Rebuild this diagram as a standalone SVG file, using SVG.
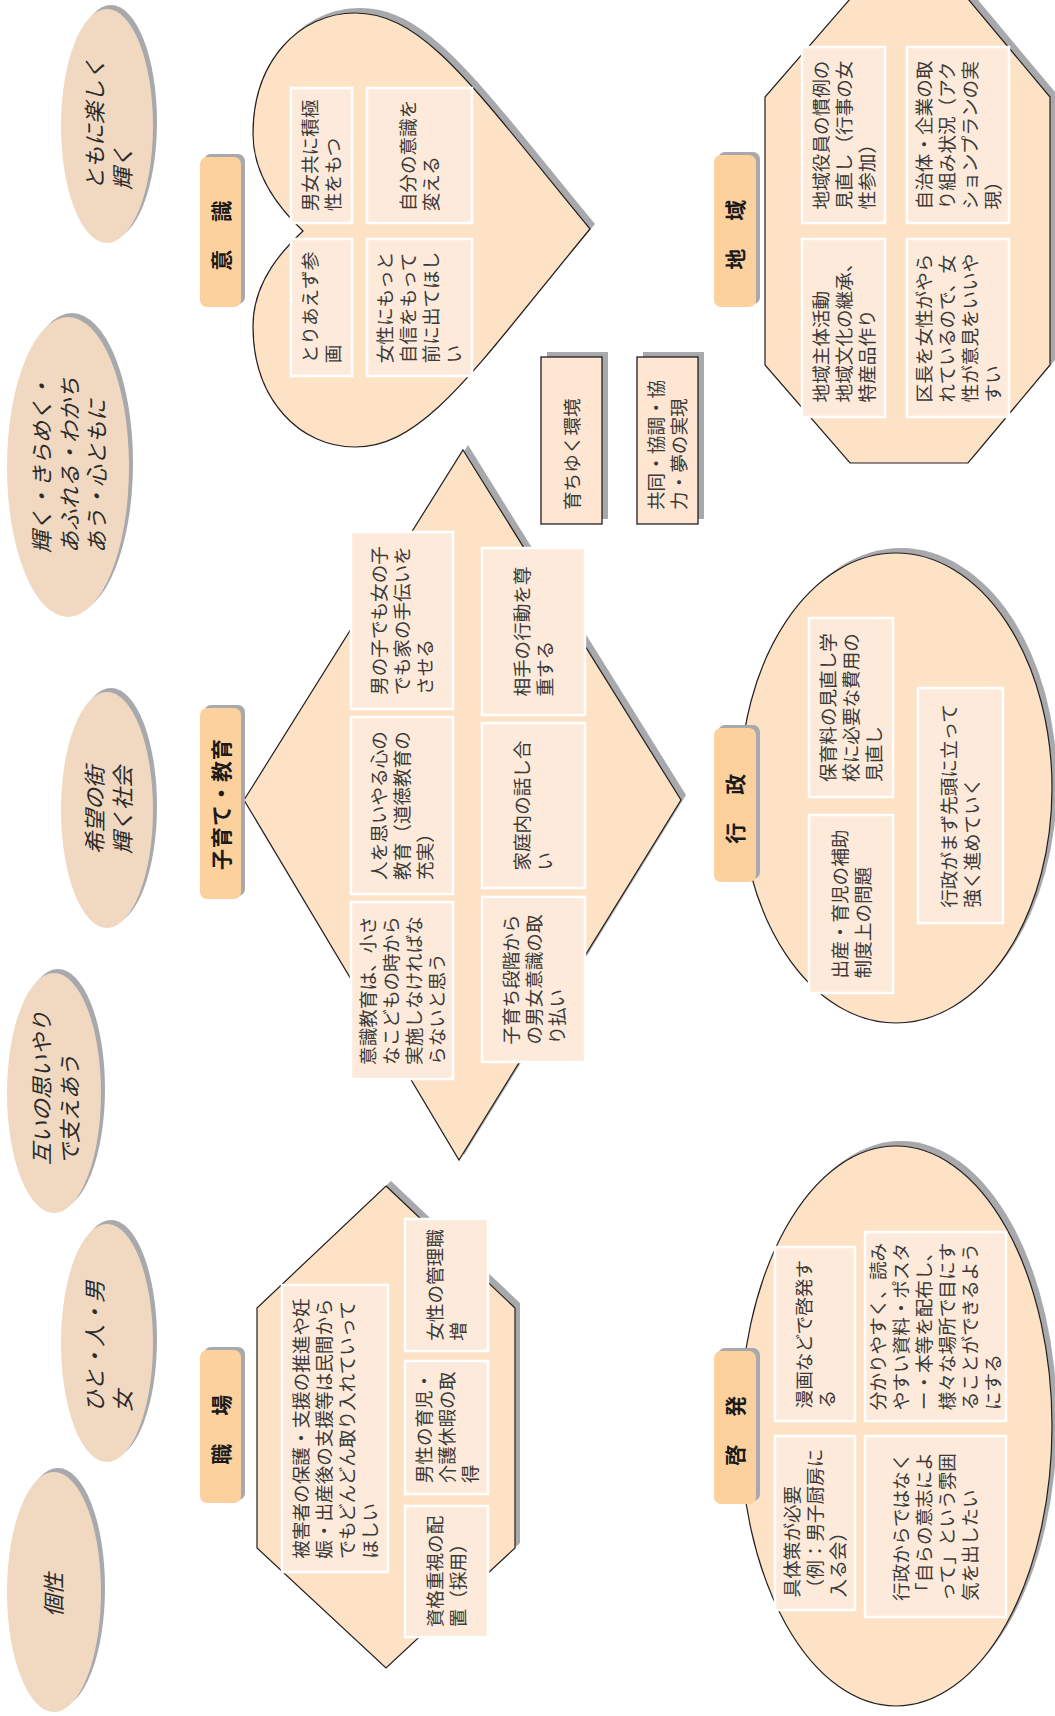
<svg xmlns="http://www.w3.org/2000/svg" width="1055" height="1716" viewBox="0 0 1055 1716">
<style>
.shadow{fill:#A7A9AC}
.shape{fill:#FDE2C6;stroke:#231F20;stroke-width:1.2}
.box{fill:#FEEADA;stroke:#FFFFFF;stroke-width:2.5}
.oval{fill:#F1D9C1}
.label{fill:#FDD19E}
.small{fill:#FEE6D2;stroke:#231F20;stroke-width:1.3}
text{font-family:"Noto Sans CJK JP","Noto Sans",sans-serif}
.t{font-size:18.6px;fill:#3A3A3A}
.te{font-size:22px;font-style:italic;fill:#2B2B2B}
.tl{font-size:21px;font-weight:bold;fill:#1A1A1A;text-anchor:middle;letter-spacing:3.5px}
.tl2{font-size:21px;font-weight:bold;fill:#1A1A1A;text-anchor:middle;letter-spacing:1px}
</style>
<defs>
<path id="heart" d="M303,231 C285,214 253,180 253,134 C253,60 300,13 355,13 C425,13 475,90 590,229 C475,368 425,447 355,447 C300,447 253,400 253,326 C253,280 285,248 303,231 Z"/>
<path id="diamond" d="M463,450 L681,800 L459,1160 L244,800 Z"/>
<path id="hexagon" d="M386,1186 L515,1308 L515,1548 L386,1668 L257,1548 L257,1308 Z"/>
<path id="octagon" d="M850,-1 L968,-1 L1050,97 L1050,365 L968,463 L850,463 L765,365 L765,97 Z"/>
<ellipse id="ov-gyosei" cx="896" cy="788" rx="156" ry="235"/>
<ellipse id="ov-keihatsu" cx="896" cy="1426" rx="156" ry="280"/>
</defs>

<g id="connectors"></g>

<!-- left column themes -->
<g id="theme-tomoni">
<ellipse class="shadow" cx="111" cy="122" rx="46" ry="117"/>
<ellipse class="oval" cx="107" cy="126" rx="46" ry="117"/>
<text class="te" transform="translate(103.4,190) rotate(-90)"><tspan x="0" y="0">ともに楽しく</tspan><tspan x="0" y="27.5">輝く</tspan></text>
</g>
<g id="theme-kagayaku">
<ellipse class="shadow" cx="72" cy="463" rx="61" ry="150"/>
<ellipse class="oval" cx="68" cy="467" rx="61" ry="150"/>
<text class="te" transform="translate(50.4,553) rotate(-90)"><tspan x="0" y="0">輝く・きらめく・</tspan><tspan x="0" y="27.5">あふれる・わかち</tspan><tspan x="0" y="55">あう・心ともに</tspan></text>
</g>
<g id="theme-kibou">
<ellipse class="shadow" cx="111" cy="806" rx="46" ry="118"/>
<ellipse class="oval" cx="107" cy="810" rx="46" ry="118"/>
<text class="te" transform="translate(103.4,854) rotate(-90)"><tspan x="0" y="0">希望の街</tspan><tspan x="0" y="27.5">輝く社会</tspan></text>
</g>
<g id="theme-tagai">
<ellipse class="shadow" cx="58" cy="1089" rx="47" ry="120"/>
<ellipse class="oval" cx="54" cy="1093" rx="47" ry="120"/>
<text class="te" transform="translate(50.4,1165) rotate(-90)"><tspan x="0" y="0">互いの思いやり</tspan><tspan x="0" y="27.5">で支えあう</tspan></text>
</g>
<g id="theme-hito">
<ellipse class="shadow" cx="111" cy="1339" rx="46" ry="119"/>
<ellipse class="oval" cx="107" cy="1343" rx="46" ry="119"/>
<text class="te" transform="translate(103.4,1412) rotate(-90)"><tspan x="0" y="0">ひと・人・男</tspan><tspan x="0" y="27.5">女</tspan></text>
</g>
<g id="theme-kosei">
<ellipse class="shadow" cx="58" cy="1588" rx="47" ry="120"/>
<ellipse class="oval" cx="54" cy="1592" rx="47" ry="120"/>
<text class="te" transform="translate(62.4,1595) rotate(-90)" text-anchor="middle">個性</text>
</g>

<!-- 意識 heart -->
<g id="node-ishiki">
<use href="#heart" class="shadow" transform="translate(5,-5)"/>
<use href="#heart" class="shape"/>
<rect class="box" x="291" y="88" width="61" height="135"/>
<rect class="box" x="367" y="88" width="105" height="135"/>
<rect class="box" x="291" y="239" width="61" height="137"/>
<rect class="box" x="367" y="239" width="105" height="137"/>
<text class="t" transform="translate(317,211.3) rotate(-90)"><tspan x="0" y="0">男女共に積極</tspan><tspan x="0" y="23">性をもつ</tspan></text>
<text class="t" transform="translate(415,211.3) rotate(-90)"><tspan x="0" y="0">自分の意識を</tspan><tspan x="0" y="23">変える</tspan></text>
<text class="t" transform="translate(317,363.3) rotate(-90)"><tspan x="0" y="0">とりあえず参</tspan><tspan x="0" y="23">画</tspan></text>
<text class="t" transform="translate(392,363.3) rotate(-90)"><tspan x="0" y="0">女性にもっと</tspan><tspan x="0" y="23">自信をもって</tspan><tspan x="0" y="46">前に出てほし</tspan><tspan x="0" y="69">い</tspan></text>
<rect class="shadow" x="204" y="154" width="41" height="150" rx="7"/>
<rect class="label" x="200" y="157" width="41" height="150" rx="7"/>
<text class="tl" transform="translate(228.5,234) rotate(-90)">意　識</text>
</g>

<!-- 子育て・教育 diamond -->
<g id="node-kosodate">
<use href="#diamond" class="shadow" transform="translate(5,-5)"/>
<use href="#diamond" class="shape"/>
<rect class="box" x="351" y="532" width="102" height="177"/>
<rect class="box" x="351" y="717" width="102" height="177"/>
<rect class="box" x="351" y="902" width="102" height="177"/>
<rect class="box" x="482" y="548" width="103" height="167"/>
<rect class="box" x="482" y="723" width="103" height="165"/>
<rect class="box" x="482" y="897" width="103" height="165"/>
<text class="t" transform="translate(386,694.9) rotate(-90)"><tspan x="0" y="0">男の子でも女の子</tspan><tspan x="0" y="23">でも家の手伝いを</tspan><tspan x="0" y="46">させる</tspan></text>
<text class="t" transform="translate(386,879.9) rotate(-90)"><tspan x="0" y="0">人を思いやる心の</tspan><tspan x="0" y="23">教育（道徳教育の</tspan><tspan x="0" y="46">充実）</tspan></text>
<text class="t" transform="translate(374.5,1064.9) rotate(-90)"><tspan x="0" y="0">意識教育は、小さ</tspan><tspan x="0" y="23">なこどもの時から</tspan><tspan x="0" y="46">実施しなければな</tspan><tspan x="0" y="69">らないと思う</tspan></text>
<text class="t" transform="translate(529,696.6) rotate(-90)"><tspan x="0" y="0">相手の行動を尊</tspan><tspan x="0" y="23">重する</tspan></text>
<text class="t" transform="translate(529,870.6) rotate(-90)"><tspan x="0" y="0">家庭内の話し合</tspan><tspan x="0" y="23">い</tspan></text>
<text class="t" transform="translate(517.5,1044.6) rotate(-90)"><tspan x="0" y="0">子育ち段階から</tspan><tspan x="0" y="23">の男女意識の取</tspan><tspan x="0" y="46">り払い</tspan></text>
<rect class="shadow" x="204" y="705" width="41" height="191" rx="7"/>
<rect class="label" x="200" y="708" width="41" height="191" rx="7"/>
<text class="tl2" transform="translate(228.5,804) rotate(-90)">子育て・教育</text>
</g>

<!-- 職場 hexagon -->
<g id="node-shokuba">
<use href="#hexagon" class="shadow" transform="translate(5,-5)"/>
<use href="#hexagon" class="shape"/>
<rect class="box" x="282" y="1285" width="106" height="287"/>
<rect class="box" x="405" y="1219" width="83" height="132"/>
<rect class="box" x="405" y="1361" width="83" height="133"/>
<rect class="box" x="405" y="1506" width="83" height="131"/>
<text class="t" transform="translate(307.5,1558.7) rotate(-90)"><tspan x="0" y="0">被害者の保護・支援の推進や妊</tspan><tspan x="0" y="23">娠・出産後の支援等は民間から</tspan><tspan x="0" y="46">でもどんどん取り入れていって</tspan><tspan x="0" y="69">ほしい</tspan></text>
<text class="t" transform="translate(442,1340.8) rotate(-90)"><tspan x="0" y="0">女性の管理職</tspan><tspan x="0" y="23">増</tspan></text>
<text class="t" transform="translate(430.5,1483.3) rotate(-90)"><tspan x="0" y="0">男性の育児・</tspan><tspan x="0" y="23">介護休暇の取</tspan><tspan x="0" y="46">得</tspan></text>
<text class="t" transform="translate(442,1627.3) rotate(-90)"><tspan x="0" y="0">資格重視の配</tspan><tspan x="0" y="23">置（採用）</tspan></text>
<rect class="shadow" x="204" y="1347" width="41" height="153" rx="7"/>
<rect class="label" x="200" y="1350" width="41" height="153" rx="7"/>
<text class="tl" transform="translate(228.5,1428) rotate(-90)">職　場</text>
</g>

<!-- small notes -->
<g id="node-sodachiyuku">
<rect class="shadow" x="547" y="352" width="61" height="167"/>
<rect class="small" x="541" y="357" width="61" height="167"/>
<text class="t" transform="translate(578.5,510) rotate(-90)">育ちゆく環境</text>
</g>
<g id="node-kyoudou">
<rect class="shadow" x="643" y="352" width="61" height="167"/>
<rect class="small" x="637" y="357" width="61" height="167"/>
<text class="t" transform="translate(663,510) rotate(-90)"><tspan x="0" y="0">共同・協調・協</tspan><tspan x="0" y="23">力・夢の実現</tspan></text>
</g>

<!-- 地域 octagon -->
<g id="node-chiiki">
<use href="#octagon" class="shadow" transform="translate(5,-5)"/>
<use href="#octagon" class="shape"/>
<rect class="box" x="802" y="47" width="83" height="176"/>
<rect class="box" x="907" y="47" width="102" height="176"/>
<rect class="box" x="802" y="239" width="83" height="178"/>
<rect class="box" x="907" y="239" width="102" height="178"/>
<text class="t" transform="translate(827.5,209.4) rotate(-90)"><tspan x="0" y="0">地域役員の慣例の</tspan><tspan x="0" y="23">見直し（行事の女</tspan><tspan x="0" y="46">性参加）</tspan></text>
<text class="t" transform="translate(930.5,209.4) rotate(-90)"><tspan x="0" y="0">自治体・企業の取</tspan><tspan x="0" y="23">り組み状況（アク</tspan><tspan x="0" y="46">ションプランの実</tspan><tspan x="0" y="69">現）</tspan></text>
<text class="t" transform="translate(827.5,402.4) rotate(-90)"><tspan x="0" y="0">地域主体活動</tspan><tspan x="0" y="23">地域文化の継承、</tspan><tspan x="0" y="46">特産品作り</tspan></text>
<text class="t" transform="translate(930.5,402.4) rotate(-90)"><tspan x="0" y="0">区長を女性がやら</tspan><tspan x="0" y="23">れているので、女</tspan><tspan x="0" y="46">性が意見をいいや</tspan><tspan x="0" y="69">すい</tspan></text>
<rect class="shadow" x="718" y="152" width="42" height="152" rx="7"/>
<rect class="label" x="714" y="155" width="42" height="152" rx="7"/>
<text class="tl" transform="translate(743,233) rotate(-90)">地　域</text>
</g>

<!-- 行政 ellipse -->
<g id="node-gyousei">
<use href="#ov-gyosei" class="shadow" transform="translate(5,-5)"/>
<use href="#ov-gyosei" class="shape"/>
<rect class="box" x="809" y="618" width="84" height="179"/>
<rect class="box" x="809" y="815" width="84" height="178"/>
<rect class="box" x="918" y="688" width="85" height="235"/>
<text class="t" transform="translate(835,781.9) rotate(-90)"><tspan x="0" y="0">保育料の見直し学</tspan><tspan x="0" y="23">校に必要な費用の</tspan><tspan x="0" y="46">見直し</tspan></text>
<text class="t" transform="translate(846.5,978.4) rotate(-90)"><tspan x="0" y="0">出産・育児の補助</tspan><tspan x="0" y="23">制度上の問題</tspan></text>
<text class="t" transform="translate(956,907.8) rotate(-90)"><tspan x="0" y="0">行政がまず先頭に立って</tspan><tspan x="0" y="23">強く進めていく</tspan></text>
<rect class="shadow" x="718" y="725" width="42" height="154" rx="7"/>
<rect class="label" x="714" y="728" width="42" height="154" rx="7"/>
<text class="tl" transform="translate(743,807) rotate(-90)">行　政</text>
</g>

<!-- 啓発 ellipse -->
<g id="node-keihatsu">
<use href="#ov-keihatsu" class="shadow" transform="translate(5,-5)"/>
<use href="#ov-keihatsu" class="shape"/>
<rect class="box" x="775" y="1247" width="80" height="174"/>
<rect class="box" x="865" y="1232" width="141" height="189"/>
<rect class="box" x="775" y="1436" width="80" height="174"/>
<rect class="box" x="865" y="1436" width="141" height="181"/>
<text class="t" transform="translate(810.5,1408.4) rotate(-90)"><tspan x="0" y="0">漫画などで啓発す</tspan><tspan x="0" y="23">る</tspan></text>
<text class="t" transform="translate(885,1410.2) rotate(-90)"><tspan x="0" y="0">分かりやすく、読み</tspan><tspan x="0" y="23">やすい資料・ポスタ</tspan><tspan x="0" y="46">ー・本等を配布し、</tspan><tspan x="0" y="69">様々な場所で目にす</tspan><tspan x="0" y="92">ることができるよう</tspan><tspan x="0" y="115">にする</tspan></text>
<text class="t" transform="translate(799,1597.4) rotate(-90)"><tspan x="0" y="0">具体策が必要</tspan><tspan x="0" y="23">（例：男子厨房に</tspan><tspan x="0" y="46">入る会）</tspan></text>
<text class="t" transform="translate(908,1600.9) rotate(-90)"><tspan x="0" y="0">行政からではなく</tspan><tspan x="0" y="23">「自らの意志によ</tspan><tspan x="0" y="46">って」という雰囲</tspan><tspan x="0" y="69">気を出したい</tspan></text>
<rect class="shadow" x="718" y="1348" width="42" height="153" rx="7"/>
<rect class="label" x="714" y="1351" width="42" height="153" rx="7"/>
<text class="tl" transform="translate(743,1429) rotate(-90)">啓　発</text>
</g>
</svg>
